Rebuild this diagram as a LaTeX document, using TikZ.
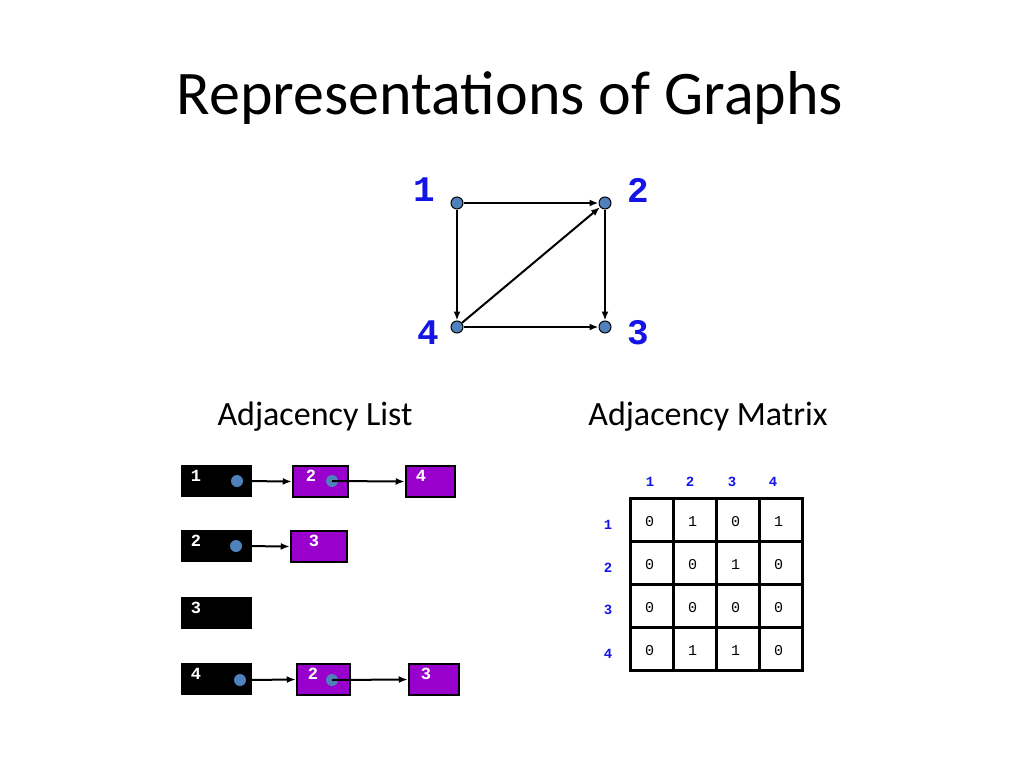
\documentclass[tikz,border=0pt]{standalone}
\usepackage{fontspec}
\setmainfont{Carlito}
\newfontfamily\monob{Liberation Mono}[BoldFont={Liberation Mono Bold}]
\usetikzlibrary{arrows.meta}
\definecolor{vblue}{RGB}{79,129,189}
\definecolor{lblue}{RGB}{20,20,230}
\definecolor{purp}{RGB}{153,0,204}
\tikzset{
 vert/.style={circle,draw=black,fill=vblue,inner sep=0pt,minimum size=12pt,line width=1pt},
 vlab/.style={font=\monob\bfseries\fontsize{36}{36}\selectfont,text=lblue},
 edge/.style={-{Latex[length=9pt,width=7pt]},line width=2pt},
 headbox/.style={fill=black,draw=black,minimum width=70pt,minimum height=31pt,inner sep=0pt},
 itembox/.style={fill=purp,draw=black,line width=2.5pt,inner sep=0pt},
 boxlab/.style={font=\monob\bfseries\fontsize{17}{17}\selectfont,text=white},
 dot/.style={circle,fill=vblue,inner sep=0pt,minimum size=12pt},
 cell/.style={draw=black,line width=3pt,minimum size=43pt,inner sep=0pt},
 celltxt/.style={font=\monob\fontsize{15}{15}\selectfont},
 mhead/.style={font=\monob\bfseries\fontsize{14}{14}\selectfont,text=lblue},
}
\begin{document}
\begin{tikzpicture}[x=1pt,y=-1pt]
\useasboundingbox (0,0) rectangle (1024,768);
\node[font=\fontsize{62}{62}\selectfont] (title) at (510,98) {Representations of Graphs};
% graph
\node[vert] (v1) at (457,203) {};
\node[vert] (v2) at (605,203) {};
\node[vert] (v4) at (457,327) {};
\node[vert] (v3) at (605,327) {};
\node[vlab] (l1) at (424,190) {1};
\node[vlab] (l2) at (638,190) {2};
\node[vlab] (l4) at (428,333) {4};
\node[vlab] (l3) at (638,333) {3};
\draw[edge] (v1) -- (v2);
\draw[edge] (v1) -- (v4);
\draw[edge] (v2) -- (v3);
\draw[edge] (v4) -- (v3);
\draw[edge] (v4) -- (v2);
\node[font=\fontsize{34}{34}\selectfont] (al) at (315,417) {Adjacency List};
\node[font=\fontsize{34}{34}\selectfont] (am) at (708,417) {Adjacency Matrix};
% adjacency list
\node[headbox] (h1) at (216,480.5) {};
\node[headbox] (h2) at (216,545.5) {};
\node[headbox] (h3) at (216,612.5) {};
\node[headbox] (h4) at (216,678.5) {};
\foreach \i/\y in {1/476,2/541,3/608,4/674} \node[boxlab] (hl\i) at (196,\y) {\i};
\node[dot] (d1) at (237,481) {};
\node[dot] (d2) at (236,546) {};
\node[dot] (d4) at (240,680) {};
\node[itembox,minimum width=55pt,minimum height=31pt] (p12) at (320.5,481.5) {};
\node[itembox,minimum width=49pt,minimum height=31pt] (p14) at (430.5,481.5) {};
\node[itembox,minimum width=56pt,minimum height=31pt] (p23) at (319,546.5) {};
\node[itembox,minimum width=53pt,minimum height=31pt] (p42) at (323.5,679.5) {};
\node[itembox,minimum width=50pt,minimum height=31pt] (p43) at (434,679.5) {};
\node[boxlab] (t12) at (311,476) {2};
\node[boxlab] (t14) at (421,476) {4};
\node[boxlab] (t23) at (314,541) {3};
\node[boxlab] (t42) at (313,674) {2};
\node[boxlab] (t43) at (426,674) {3};
\node[dot] (d12) at (332,481) {};
\node[dot] (d42) at (332,680) {};
\draw[edge] (d1.east) -- (p12.west);
\draw[edge] (d12.center) -- (p14.west);
\draw[edge] (d2.east) -- (p23.west);
\draw[edge] (d4.east) -- (p42.west);
\draw[edge] (d42.center) -- (p43.west);
% matrix
\foreach \c/\x in {1/650,2/690,3/732,4/773} \node[mhead] (ch\c) at (\x,482) {\c};
\foreach \r/\y in {1/525,2/568,3/610,4/654} \node[mhead] (rh\r) at (608,\y) {\r};
\foreach \r/\row in {1/{0,1,0,1},2/{0,0,1,0},3/{0,0,0,0},4/{0,1,1,0}}{
  \foreach \v [count=\c] in \row {
    \node[cell] (m\r\c) at ({630+43*\c-21.5},{498+43*\r-21.5}) {};
    \node[celltxt] (mt\r\c) at ({630+43*\c-21.5-2},{498+43*\r-19}) {\v};
  }
}
\end{tikzpicture}
\end{document}
